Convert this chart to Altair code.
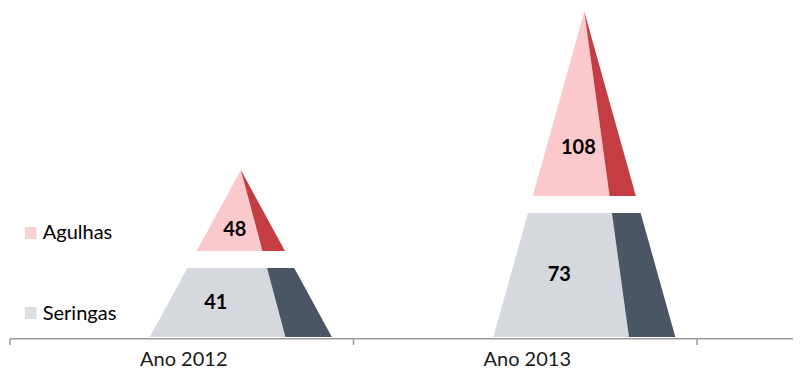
import altair as alt
import pandas as pd

# ---- data -------------------------------------------------------------
categories = ["Ano 2012", "Ano 2013"]
series = ["Seringas", "Agulhas"]          # bottom -> top
seringas = [41, 73]
agulhas = [48, 108]

front_colors = {"Seringas": "#D5D9DE", "Agulhas": "#FBC9CC"}
side_colors = {"Seringas": "#4B5664", "Agulhas": "#C33D43"}
legend_colors = {"Seringas": "#DCDFE2", "Agulhas": "#FAD2D4"}
label_frac = {"Seringas": 0.5, "Agulhas": 0.26}
label_dx = {"Seringas": -25, "Agulhas": -6}

# ---- geometry / style constants ---------------------------------------
DEPTH = 4.1       # 3-D perspective offset (value units)
GAP = 4.95        # half gap between stacked blocks (value units)
SHIFT = 0.172     # pyramid shift from band centre (band units)
HALF_W = 0.265    # half base width (band units)
SPLIT = 0.49      # front/side split, fraction of half width

PX_PER_BAND = 343.5
PX_PER_VAL = 1.719
W, H = 785, 362
ZERO_PX = 322
X0 = -2 / PX_PER_BAND
XDOM = [X0, X0 + W / PX_PER_BAND]
YDOM = [-(H - ZERO_PX) / PX_PER_VAL, ZERO_PX / PX_PER_VAL]
AXIS_V = -5.06
TICK_V = -8.73
CAT_LABEL_V = -21.0
FONT = "Lato"


def envelope(poly):
    xs = sorted(set(round(p[0], 9) for p in poly))
    out = []
    n = len(poly)
    for x in xs:
        ys = []
        for k in range(n):
            (x1, y1), (x2, y2) = poly[k], poly[(k + 1) % n]
            lo, hi = min(x1, x2), max(x1, x2)
            if lo - 1e-9 <= x <= hi + 1e-9:
                if abs(x2 - x1) < 1e-12:
                    ys += [y1, y2]
                else:
                    t = (x - x1) / (x2 - x1)
                    ys.append(y1 + t * (y2 - y1))
        out.append((x, min(ys), max(ys)))
    return out


face_rows = []
label_rows = []
for i, cat in enumerate(categories):
    vals = {"Seringas": seringas[i], "Agulhas": agulhas[i]}
    c = i + 0.5 + SHIFT
    total = vals["Seringas"] + vals["Agulhas"]
    base = -DEPTH
    apex = total + DEPTH

    def hw(v):
        return HALF_W * (apex - v) / (apex - base)

    segs = {
        "Seringas": (base, vals["Seringas"] - GAP),
        "Agulhas": (vals["Seringas"] + GAP, apex),
    }
    for s in series:
        a, b = segs[s]
        front = [(c - hw(a), a), (c + SPLIT * hw(a), a),
                 (c + SPLIT * hw(b), b), (c - hw(b), b)]
        side = [(c + SPLIT * hw(a), a), (c + hw(a), a),
                (c + hw(b), b), (c + SPLIT * hw(b), b)]
        for name, poly, col in (("front", front, front_colors[s]),
                                ("side", side, side_colors[s])):
            for x, lo, hi in envelope(poly):
                face_rows.append({"face": f"{cat}-{s}-{name}", "x": x,
                                  "lo": lo, "hi": hi, "color": col})
        label_rows.append({"series": s, "x": c,
                           "y": a + label_frac[s] * (b - a),
                           "text": str(vals[s])})

faces = pd.DataFrame(face_rows)
labels = pd.DataFrame(label_rows)

xs = alt.Scale(domain=XDOM, nice=False, zero=False)
ys = alt.Scale(domain=YDOM, nice=False, zero=False)

areas = alt.Chart(faces).mark_area(interpolate="linear", opacity=1).encode(
    x=alt.X("x:Q", scale=xs, axis=None),
    y=alt.Y("lo:Q", scale=ys, axis=None, stack=None),
    y2="hi:Q",
    color=alt.Color("color:N", scale=None),
    detail="face:N",
)

label_layers = []
for s in series:
    label_layers.append(
        alt.Chart(labels[labels.series == s]).mark_text(
            font=FONT, fontSize=20, fontWeight="bold", color="#000000",
            baseline="middle", align="center", dx=label_dx[s]
        ).encode(x=alt.X("x:Q", scale=xs), y=alt.Y("y:Q", scale=ys), text="text:N")
    )

axis_df = pd.DataFrame({"x": [0.0], "x2": [XDOM[1]], "y": [AXIS_V]})
axis_line = alt.Chart(axis_df).mark_rule(color="#9a9a9a", strokeWidth=1.5).encode(
    x=alt.X("x:Q", scale=xs), x2="x2:Q", y=alt.Y("y:Q", scale=ys)
)
tick_df = pd.DataFrame({"x": [0.0, 1.0, 2.0], "y": [AXIS_V] * 3, "y2": [TICK_V] * 3})
ticks = alt.Chart(tick_df).mark_rule(color="#9a9a9a", strokeWidth=1.5).encode(
    x=alt.X("x:Q", scale=xs), y=alt.Y("y:Q", scale=ys), y2="y2:Q"
)
cat_df = pd.DataFrame({"x": [i + 0.5 for i in range(len(categories))],
                       "y": [CAT_LABEL_V] * len(categories), "text": categories})
cat_labels = alt.Chart(cat_df).mark_text(
    font=FONT, fontSize=20, color="#1a1a1a", align="center",
    baseline="alphabetic", dx=2
).encode(x=alt.X("x:Q", scale=xs), y=alt.Y("y:Q", scale=ys), text="text:N")

# ---- legend (manual, pixel positions) ----------------------------------
leg_items = [("Agulhas", 219, 231, 231.3),
             ("Seringas", 299, 311, 312.0)]
leg_layers = []
for name, y_top, y_bot, ty in leg_items:
    one = pd.DataFrame({"t": [name]})
    leg_layers.append(alt.Chart(one).mark_rect(
        fill=legend_colors[name], stroke=None, opacity=1
    ).encode(x=alt.value(17), x2=alt.value(28.5), y=alt.value(y_top), y2=alt.value(y_bot)))
    leg_layers.append(alt.Chart(one).mark_text(
        font=FONT, fontSize=20, color="#000000", align="left", baseline="alphabetic"
    ).encode(x=alt.value(34.7), y=alt.value(ty), text="t:N"))

chart = alt.layer(
    areas, axis_line, ticks, cat_labels, *label_layers, *leg_layers
).properties(
    width=W, height=H, padding=0, autosize=alt.AutoSizeParams(type="none"),
    background="white"
).configure_view(stroke=None)

chart.save("out.html", embed_options={"renderer": "svg", "actions": False})
